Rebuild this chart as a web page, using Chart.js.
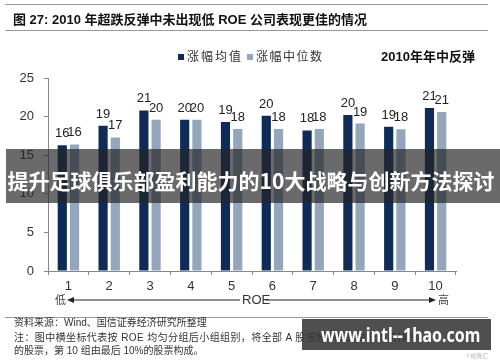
<!DOCTYPE html>
<html>
<head>
<meta charset="utf-8">
<script src="https://cdn.jsdelivr.net/npm/chart.js@4"></script>
<style>
  html,body{margin:0;padding:0;background:#fff;}
  body{width:500px;height:362px;position:relative;overflow:hidden;font-family:"Liberation Sans","Noto Sans CJK SC",sans-serif;}
  #c{position:absolute;left:0;top:0;}
  .abs{position:absolute;white-space:nowrap;}
  .hline{position:absolute;left:5px;width:483px;height:1px;background:#9a9a9a;}
  .cjk{font-family:"Liberation Sans","Noto Sans CJK SC",sans-serif;}
</style>
</head>
<body>
<canvas id="c" width="500" height="362"></canvas>

<div class="hline" style="top:4px;"></div>
<div class="abs cjk" style="left:13px;top:11px;font-size:13px;font-weight:bold;color:#111;line-height:18px;">图 27: 2010 年超跌反弹中未出现低 ROE 公司表现更佳的情况</div>
<div class="hline" style="top:30px;"></div>

<div class="abs" style="left:178px;top:54px;width:6px;height:6px;background:#0f2c58;"></div>
<div class="abs cjk" style="left:187px;top:49px;font-size:12px;letter-spacing:2px;color:#333;line-height:16px;">涨幅均值</div>
<div class="abs" style="left:247px;top:54px;width:6px;height:6px;background:#94a6bc;"></div>
<div class="abs cjk" style="left:256px;top:49px;font-size:12px;letter-spacing:1.5px;color:#333;line-height:16px;">涨幅中位数</div>
<div class="abs cjk" style="left:381px;top:48px;font-size:13px;font-weight:bold;color:#111;line-height:17px;">2010年年中反弹</div>

<svg class="abs" style="left:0;top:290px;" width="500" height="20">
  <line x1="70" y1="10" x2="240" y2="10" stroke="#222" stroke-width="1"/>
  <polygon points="67,10 74,7 74,13" fill="#222"/>
  <line x1="265" y1="10" x2="432" y2="10" stroke="#222" stroke-width="1"/>
  <polygon points="436,10 429,7 429,13" fill="#222"/>
</svg>
<div class="abs cjk" style="left:55px;top:293px;font-size:11px;color:#444;line-height:14px;">低</div>
<div class="abs" style="left:242px;top:292px;font-size:13px;color:#333;line-height:16px;">ROE</div>
<div class="abs cjk" style="left:438px;top:293px;font-size:11px;color:#444;line-height:14px;">高</div>

<div class="hline" style="top:317px;"></div>
<div class="abs cjk" style="left:14px;top:316px;font-size:10px;color:#333;line-height:13px;">资料来源：Wind、国信证券经济研究所整理</div>
<div class="abs cjk" style="left:14px;top:331px;font-size:10px;letter-spacing:0.4px;color:#333;line-height:13px;">注：图中横坐标代表按 ROE 均匀分组后小组组别，将全部 A 股按照 ROE 由低到高排序</div>
<div class="abs cjk" style="left:14px;top:344px;font-size:10px;color:#333;line-height:13px;">的股票，第 10 组由最后 10%的股票构成。</div>
<div class="abs cjk" style="left:466px;top:352px;font-size:6px;color:#bbb;line-height:8px;">©格隆汇</div>

<div class="abs" style="left:6px;top:149px;width:494px;height:54px;background:rgba(35,35,35,0.68);"></div>
<div class="abs cjk" style="left:6px;top:167px;width:490px;text-align:center;font-size:21px;font-weight:bold;color:#fff;line-height:26px;font-family:'Noto Sans CJK SC',sans-serif;">提升足球俱乐部盈利能力的10大战略与创新方法探讨</div>

<div class="abs" style="left:302px;top:319px;width:189px;height:31px;background:rgba(55,55,55,0.88);"></div>
<div class="abs" style="left:302px;top:319px;width:189px;text-align:center;font-size:20px;font-weight:bold;color:#fff;line-height:31px;font-family:'Noto Sans',sans-serif;transform:scaleX(0.8);transform-origin:50% 50%;">www.intl--1hao.com</div>

<script>
const categories = ["1","2","3","4","5","6","7","8","9","10"];
const meanValues = [16.3, 18.8, 20.8, 19.6, 19.3, 20.1, 18.2, 20.2, 18.7, 21.1];
const medianValues = [16.4, 17.3, 19.6, 19.6, 18.4, 18.4, 18.4, 19.1, 18.35, 20.6];
const yTicks = [0, 5, 10, 15, 20, 25];
const seriesNames = ["涨幅均值", "涨幅中位数"];

const labelPlugin = {
  id: 'barLabels',
  afterDatasetsDraw(chart) {
    const ctx = chart.ctx;
    ctx.save();
    ctx.font = '13px "Liberation Sans", Arial, sans-serif';
    ctx.fillStyle = '#222';
    ctx.textAlign = 'center';
    ctx.textBaseline = 'alphabetic';
    chart.data.datasets.forEach((ds, i) => {
      const meta = chart.getDatasetMeta(i);
      meta.data.forEach((el, j) => {
        ctx.fillText(String(Math.round(ds.data[j])), el.x, el.y - 8);
      });
    });
    ctx.restore();
  }
};

new Chart(document.getElementById('c'), {
  type: 'bar',
  data: {
    labels: categories,
    datasets: [
      { label: seriesNames[0], data: meanValues, backgroundColor: '#0f2c58', categoryPercentage: 0.6, barPercentage: 0.75 },
      { label: seriesNames[1], data: medianValues, backgroundColor: '#94a6bc', categoryPercentage: 0.6, barPercentage: 0.75 }
    ]
  },
  options: {
    responsive: false,
    animation: false,
    devicePixelRatio: 1,
    layout: { padding: { left: 0, right: 44, top: 78, bottom: 61 } },
    plugins: { legend: { display: false }, tooltip: { enabled: false } },
    scales: {
      x: {
        afterFit(s) { s.height = 30; },
        grid: { offset: true, drawOnChartArea: false, tickLength: 4, color: '#888', tickColor: '#888' },
        border: { color: '#888', width: 1 },
        ticks: { padding: 4, color: '#333', font: { family: '"Liberation Sans", Arial, sans-serif', size: 13 } }
      },
      y: {
        min: 0, max: 25,
        afterFit(s) { s.width = 48; },
        afterBuildTicks(s) { s.ticks = yTicks.map(v => ({ value: v })); },
        grid: { drawOnChartArea: false, tickLength: 4, color: '#888', tickColor: '#888' },
        border: { color: '#888', width: 1 },
        ticks: { padding: 10, color: '#333', font: { family: '"Liberation Sans", Arial, sans-serif', size: 13 } }
      }
    }
  },
  plugins: [labelPlugin]
});
</script>
</body>
</html>
